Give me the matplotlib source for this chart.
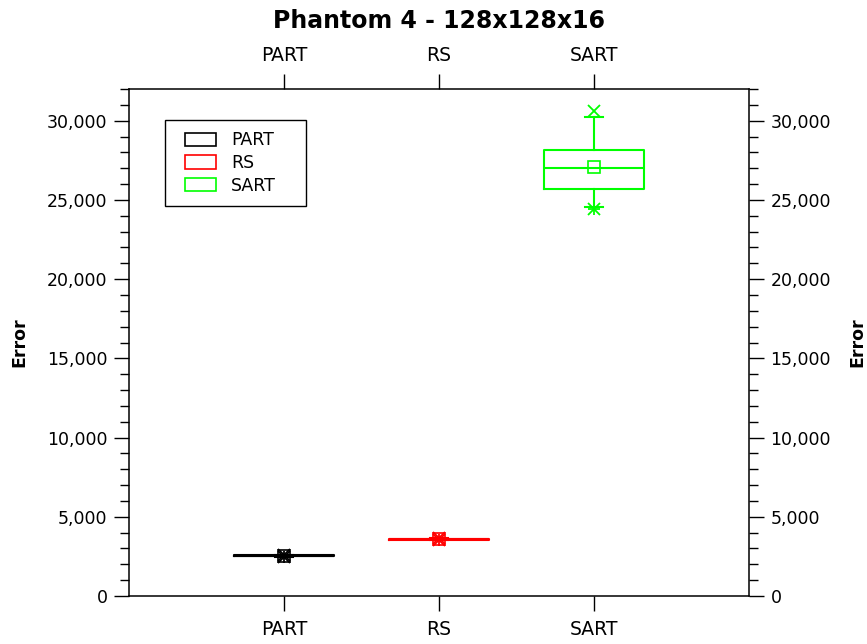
import matplotlib
matplotlib.use("Agg")
import matplotlib.pyplot as plt
from matplotlib.patches import Rectangle
from matplotlib.legend_handler import HandlerPatch
from matplotlib.ticker import FuncFormatter, MultipleLocator

plt.rcParams['font.family'] = ['DejaVu Sans']

categories = ["PART", "RS", "SART"]
colors = ["black", "red", "#00ff00"]
q1 = [2510, 3560, 25670]
median = [2540, 3580, 27020]
q3 = [2570, 3600, 28150]
mean = [2545, 3585, 27100]
whis_lo = [2480, 3530, 24540]
whis_hi = [2610, 3640, 30260]
v_min = [2470, 3520, 24400]
v_max = [2620, 3650, 30640]

fig = plt.figure(figsize=(8.67, 6.44), dpi=100)
ax = fig.add_axes([0.1488, 0.0745, 0.8639 - 0.1488, 0.8618 - 0.0745])

positions = [1, 2, 3]
for i, cat in enumerate(categories):
    c = colors[i]
    stats = [dict(med=median[i], q1=q1[i], q3=q3[i], whislo=whis_lo[i],
                  whishi=whis_hi[i], mean=mean[i], fliers=[], label=cat)]
    ax.bxp(stats, positions=[positions[i]], widths=0.645, capwidths=0.12,
           showmeans=True, showfliers=False, manage_ticks=False,
           boxprops=dict(color=c, linewidth=1.5),
           medianprops=dict(color=c, linewidth=1.5),
           whiskerprops=dict(color=c, linewidth=1.5),
           capprops=dict(color=c, linewidth=1.5),
           meanprops=dict(marker='s', markerfacecolor='none', markeredgecolor=c,
                          markersize=8.5, markeredgewidth=1.2))
    ax.plot([positions[i]], [v_max[i]], marker='x', color=c, markersize=9, mew=1.3, ls='none')
    for m in ['x', '|', '_']:
        ax.plot([positions[i]], [v_min[i]], marker=m, color=c, markersize=9, mew=1.3, ls='none')

ax.set_xlim(0, 4)
ax.set_ylim(0, 32000)
ax.set_xticks(positions)
ax.set_xticklabels(categories)
ax.yaxis.set_major_locator(MultipleLocator(5000))
ax.yaxis.set_minor_locator(MultipleLocator(1000))
ax.yaxis.set_major_formatter(FuncFormatter(lambda v, p: f"{int(v):,}"))

ax.tick_params(axis='both', which='major', direction='out', length=10.5, width=1.0,
               top=True, labeltop=True, right=True, labelright=True)
ax.tick_params(axis='x', which='major', labelsize=13.5, pad=7)
ax.tick_params(axis='y', which='major', labelsize=12.5, pad=5)
ax.tick_params(axis='y', which='minor', direction='out', length=6.5, width=1.0,
               right=True, left=True)
for s in ax.spines.values():
    s.set_linewidth(1.1)

ax.set_ylabel("Error", fontsize=12.5, fontweight='bold')
ax.yaxis.set_label_coords(-0.162, 0.5)
fig.text(0.989, 0.5 * (0.0745 + 0.8618), "Error", rotation=90, fontsize=12.5,
         fontweight='bold', ha='center', va='center')

ax.set_title("Phantom 4 - 128x128x16", fontsize=17, fontweight='bold', pad=44)


def shifted_rect(legend, orig_handle, xdescent, ydescent, width, height, fontsize):
    shift = 0.5 * fontsize
    return Rectangle((-xdescent + shift, -ydescent), width - shift, height)


handles = [Rectangle((0, 0), 1, 1, facecolor='none', edgecolor=c, linewidth=1.2) for c in colors]
leg = ax.legend(handles, categories, loc='upper left',
                bbox_to_anchor=(0.0581, 0.9389 - 0.2, 0.2274, 0.2), mode='expand',
                fontsize=12.5, frameon=True, fancybox=False, edgecolor='black',
                handlelength=2.3, handleheight=0.8, handletextpad=0.85,
                labelspacing=0.27, borderpad=0.65, borderaxespad=0, framealpha=1,
                handler_map={Rectangle: HandlerPatch(patch_func=shifted_rect)})
leg.get_frame().set_linewidth(1.0)

fig.savefig("out.png", dpi=100)
